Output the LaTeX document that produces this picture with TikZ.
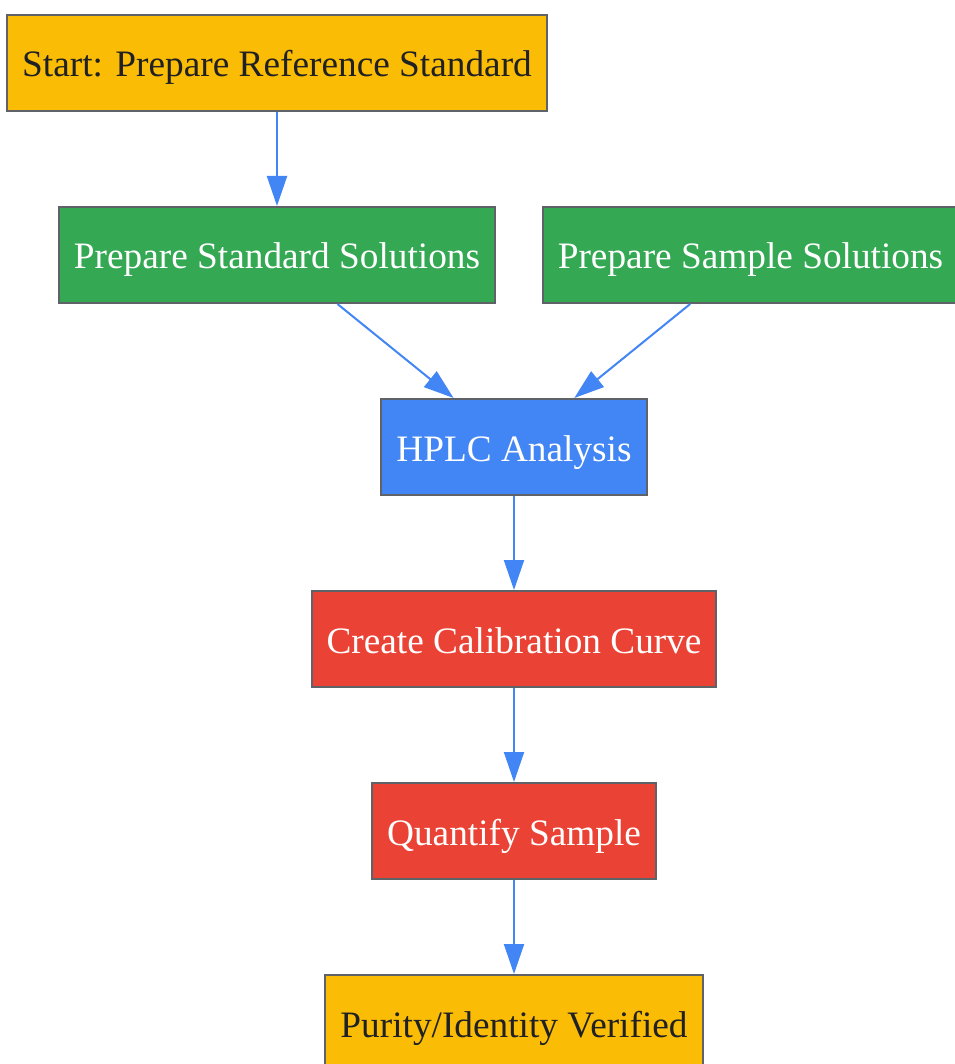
\documentclass[tikz,border=0pt]{standalone}
\usepackage{fontspec}
\setmainfont{Liberation Serif}
\usetikzlibrary{arrows.meta}
\definecolor{stepyellow}{HTML}{FBBC05}
\definecolor{stepgreen}{HTML}{34A853}
\definecolor{stepblue}{HTML}{4285F4}
\definecolor{stepred}{HTML}{EA4335}
\definecolor{stepedge}{HTML}{5F6368}
\definecolor{steptext}{HTML}{202124}
\tikzset{
	stepbox/.style={draw=stepedge, line width=2pt, minimum height=96pt, inner xsep=15pt,
		text height=28pt, text depth=0pt, font=\fontsize{37.3}{44}\selectfont},
	flow/.style={draw=stepblue, line width=2pt, -{Triangle[length=30pt,width=20pt]}}
}
\begin{document}
\begin{tikzpicture}[x=1pt, y=-1pt]
		% % Page
		 	\useasboundingbox (0,0) rectangle (954,1064);
		% % Steps
		 	\node[stepbox, fill=stepyellow, text=steptext] (start) at (277,63) {Start: Prepare Reference Standard};
		 	\node[stepbox, fill=stepgreen, text=white] (stdsol) at (277,255) {Prepare Standard Solutions};
		 	\node[stepbox, fill=stepgreen, text=white] (smpsol) at (750.5,255) {Prepare Sample Solutions};
		 	\node[stepbox, fill=stepblue, text=white] (hplc) at (514,447) {HPLC Analysis};
		 	\node[stepbox, fill=stepred, text=white] (calib) at (514,639) {Create Calibration Curve};
		 	\node[stepbox, fill=stepred, text=white] (quant) at (514,831) {Quantify Sample};
		 	\node[stepbox, fill=stepyellow, text=steptext] (verified) at (514,1023) {Purity/Identity Verified};
		% % Connectors
		 	\foreach \from/\to in {
  		 		start/stdsol,
  		 		stdsol/hplc,
  		 		smpsol/hplc,
  		 		hplc/calib,
  		 		calib/quant,
  		 		quant/verified}{
  		 		\draw[flow] (\from) -- (\to);
		 	}
\end{tikzpicture}
\end{document}
